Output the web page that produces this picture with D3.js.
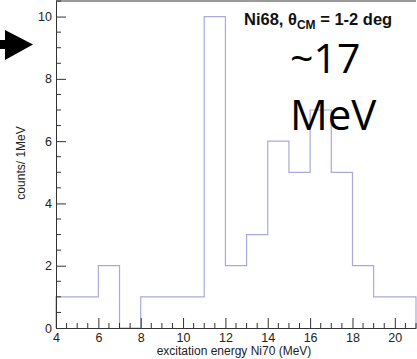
<!DOCTYPE html>
<html>
<head>
<meta charset="utf-8">
<script src="https://cdn.jsdelivr.net/npm/d3@7"></script>
<style>
  body { margin: 0; background: #fff; }
  svg { display: block; }
  .axis text { font-family: "Liberation Sans", Arial, sans-serif; font-size: 12.5px; fill: #222; }
  .axis-label { font-family: "Liberation Sans", Arial, sans-serif; font-size: 12px; fill: #222; }
</style>
</head>
<body>
<div class="hist-chart"></div>
<script>
// histogram bins (1 MeV wide), lower edges and counts
var binLow = [4, 5, 6, 7, 8, 9, 10, 11, 12, 13, 14, 15, 16, 17, 18, 19, 20];
var counts = [1, 1, 2, 0, 1, 1, 1, 10, 2, 3, 6, 5, 7, 5, 2, 1, 1];
var binWidth = 1;
var xTicks = [4, 6, 8, 10, 12, 14, 16, 18, 20];
var yTicks = [0, 2, 4, 6, 8, 10];

function drawHist() {
    var W = 417, H = 359;
    var margin = {top: 1, right: 1, bottom: 31, left: 56},
    width = W - margin.left - margin.right,
    height = H - margin.top - margin.bottom;

    var x = d3.scaleLinear().domain([4, 21]).range([0, width]);
    var y = d3.scaleLinear().domain([0, 10.5]).range([height, 0]);

    var svg = d3.select(".hist-chart").append("svg")
        .attr("width", W)
        .attr("height", H);

    var g = svg.append("g")
        .attr("transform", `translate(${margin.left}, ${margin.top})`);

    // frame top
    g.append("line")
        .attr("x1", 0).attr("x2", width)
        .attr("y1", 0).attr("y2", 0)
        .style("stroke", "#9a9a9a")
        .style("stroke-width", "2px");

    // step outline of histogram
    var pts = [];
    pts.push([binLow[0], 0]);
    binLow.forEach(function(b, i) {
        pts.push([b, counts[i]]);
        pts.push([b + binWidth, counts[i]]);
    });
    pts.push([binLow[binLow.length - 1] + binWidth, 0]);

    var step = d3.line()
        .x(function(d) { return x(d[0]); })
        .y(function(d) { return y(d[1]); });

    g.append("path")
        .datum(pts)
        .attr("d", step)
        .style("fill", "none")
        .style("stroke", "#a9a9dd")
        .style("stroke-width", "1.2px");

    // x axis, major + minor ticks (ticks pointing up)
    var xMinor = d3.range(4, 21.01, 0.5).filter(function(v) { return xTicks.indexOf(v) < 0; });
    var xa = g.append("g")
        .attr("class", "axis")
        .attr("transform", `translate(0, ${height})`);
    xa.call(d3.axisBottom(x).tickValues(xTicks).tickSize(-10).tickPadding(5).tickSizeOuter(0));
    xa.selectAll(".minor").data(xMinor).enter().append("line")
        .attr("class", "minor")
        .attr("x1", function(d) { return x(d); }).attr("x2", function(d) { return x(d); })
        .attr("y1", 0).attr("y2", -5)
        .style("stroke", "#333");
    xa.select(".domain").style("stroke", "#333");
    xa.selectAll(".tick line").style("stroke", "#333");

    // y axis
    var yMinor = d3.range(0, 10.51, 0.5).filter(function(v) { return yTicks.indexOf(v) < 0; });
    var ya = g.append("g").attr("class", "axis");
    ya.call(d3.axisLeft(y).tickValues(yTicks).tickSize(-10).tickPadding(4).tickSizeOuter(0));
    ya.selectAll(".minor").data(yMinor).enter().append("line")
        .attr("class", "minor")
        .attr("y1", function(d) { return y(d); }).attr("y2", function(d) { return y(d); })
        .attr("x1", 0).attr("x2", 5)
        .style("stroke", "#333");
    ya.select(".domain").style("stroke", "#333");
    ya.selectAll(".tick line").style("stroke", "#333");

    // axis labels
    g.append("text")
        .attr("class", "axis-label")
        .attr("x", x(12.5) - 2)
        .attr("y", height + 27)
        .style("text-anchor", "middle")
        .text("excitation energy Ni70 (MeV)");
    g.append("text")
        .attr("class", "axis-label")
        .attr("transform", "rotate(-90)")
        .attr("x", -y(5.3))
        .attr("y", -31)
        .style("text-anchor", "middle")
        .text("counts/ 1MeV");

    // title
    var title = svg.append("text")
        .attr("x", 244)
        .attr("y", 25)
        .style("font-family", "Liberation Sans, Arial, sans-serif")
        .style("font-weight", "bold")
        .style("font-size", "16.5px")
        .style("fill", "#111");
    title.append("tspan").text("Ni68, \u03b8");
    title.append("tspan").attr("dy", 4).style("font-size", "12px").text("CM");
    title.append("tspan").attr("dy", -4).text(" = 1-2 deg");

    // annotation
    svg.append("text")
        .attr("x", 290)
        .attr("y", 73)
        .style("font-family", "Open Sans, sans-serif")
        .style("font-size", "41px")
        .style("fill", "#000")
        .text("~17");
    svg.append("text")
        .attr("x", 290)
        .attr("y", 130)
        .style("font-family", "Open Sans, sans-serif")
        .style("font-size", "42px")
        .style("fill", "#000")
        .text("MeV");

    // arrow pointing at the plot
    svg.append("path")
        .attr("d", "M0,40 L5,40 L5,30 L33,44.5 L5,60 L5,49 L0,49 Z")
        .style("fill", "#000");
}

drawHist();
</script>
</body>
</html>
